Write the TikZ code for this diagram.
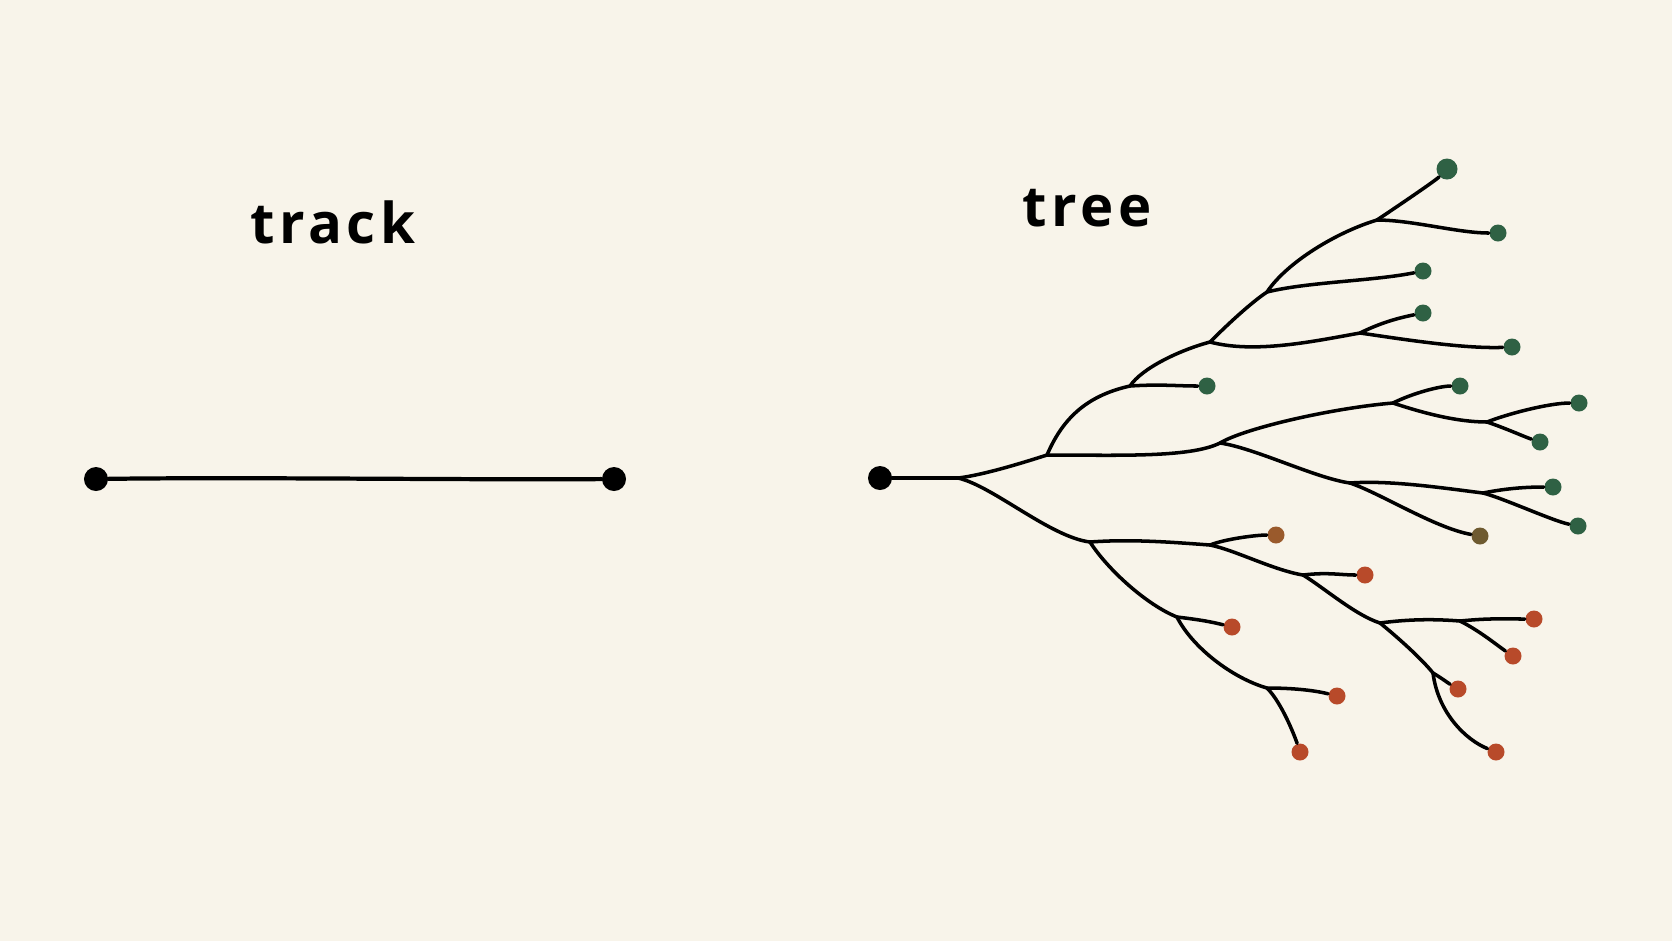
\documentclass[tikz,border=0pt]{standalone}
\usepackage{fontspec}
\setmainfont{Open Sans}[LetterSpace=8]
\usepackage{xcolor}
\definecolor{paper}{HTML}{F8F4EA}
\definecolor{leafgreen}{HTML}{2F6144}
\definecolor{leafred}{HTML}{B84A2A}
\definecolor{leafbrown}{HTML}{9A5A2C}
\definecolor{leafolive}{HTML}{6E5A30}

\begin{document}
\begin{tikzpicture}[x=0.01cm, y=-0.01cm, % pixel grid, y pointing down
		branch/.style={line width=1pt, line cap=round, black},
		knob/.style={circle, fill=black, inner sep=0pt, minimum size=0.24cm},
		leaf/.style={circle, fill=#1, inner sep=0pt, minimum size=0.17cm},
		label/.style={font=\fontsize{16}{18}\selectfont\bfseries}]
		% Paper
		\fill[paper] (0,0) rectangle (1672,941);

		% Titles
		\node[label] (tracktitle) at (333,222) {track};
		\node[label] (treetitle) at (1087,208) {tree};

		% Track: one line between two ends
		\node[knob] (start) at (96,479) {};
		\node[knob] (end) at (614,479) {};
		\draw[branch, line width=1.2pt] (start) .. controls +(150,-2) and +(-150,1) .. (end);

		% Tree: root and junctions
		\node[knob] (root) at (880,478) {};
		\coordinate (j0) at (958,478);
		\coordinate (jU) at (1047,455);
		\coordinate (jA) at (1130,386);
		\coordinate (jB) at (1210,342);
		\coordinate (jC) at (1360,333);
		\coordinate (jD) at (1267,292);
		\coordinate (jE) at (1377,220);
		\coordinate (jM) at (1220,443);
		\coordinate (jF) at (1393,403);
		\coordinate (jG) at (1487,422);
		\coordinate (jH) at (1350,483);
		\coordinate (jI) at (1483,493);
		\coordinate (jL) at (1090,542);
		\coordinate (jN) at (1210,545);
		\coordinate (jP) at (1303,575);
		\coordinate (jQ) at (1380,623);
		\coordinate (jS) at (1460,621);
		\coordinate (jT) at (1433,673);
		\coordinate (jK) at (1177,617);
		\coordinate (jV) at (1267,688);

		% Leaves
		\node[leaf=leafgreen, minimum size=0.21cm] (g1) at (1447,169) {};
		\node[leaf=leafgreen] (g2) at (1498,233) {};
		\node[leaf=leafgreen] (g3) at (1423,271) {};
		\node[leaf=leafgreen] (g4) at (1423,313) {};
		\node[leaf=leafgreen] (g5) at (1512,347) {};
		\node[leaf=leafgreen] (g6) at (1207,386) {};
		\node[leaf=leafgreen] (g7) at (1460,386) {};
		\node[leaf=leafgreen] (g8) at (1579,403) {};
		\node[leaf=leafgreen] (g9) at (1540,442) {};
		\node[leaf=leafgreen] (g10) at (1553,487) {};
		\node[leaf=leafgreen] (g11) at (1578,526) {};
		\node[leaf=leafolive] (o1) at (1480,536) {};
		\node[leaf=leafbrown] (b1) at (1276,535) {};
		\node[leaf=leafred] (r1) at (1365,575) {};
		\node[leaf=leafred] (r2) at (1534,619) {};
		\node[leaf=leafred] (r3) at (1513,656) {};
		\node[leaf=leafred] (r4) at (1458,689) {};
		\node[leaf=leafred] (r5) at (1496,752) {};
		\node[leaf=leafred] (r6) at (1232,627) {};
		\node[leaf=leafred] (r7) at (1337,696) {};
		\node[leaf=leafred] (r8) at (1300,752) {};

		% Trunk
		\draw[branch, line width=1.3pt] (root) -- (j0);

		% Upper limb
		\draw[branch] (j0) .. controls +(25,-3) and +(-25,8) .. (jU);
		\draw[branch] (jU) .. controls +(15,-35) and +(-45,10) .. (jA);
		\draw[branch] (jA) .. controls +(30,-2) and +(-30,0) .. (g6);
		\draw[branch] (jA) .. controls +(12,-18) and +(-30,8) .. (jB);
		\draw[branch] (jB) .. controls +(45,12) and +(-45,8) .. (jC);
		\draw[branch] (jC) .. controls +(20,-10) and +(-25,5) .. (g4);
		\draw[branch] (jC) .. controls +(35,5) and +(-50,2) .. (g5);
		\draw[branch] (jB) .. controls +(20,-20) and +(-15,10) .. (jD);
		\draw[branch] (jD) .. controls +(40,-10) and +(-50,10) .. (g3);
		\draw[branch] (jD) .. controls +(20,-30) and +(-40,12) .. (jE);
		\draw[branch] (jE) .. controls +(15,-10) and +(-12,12) .. (g1);
		\draw[branch] (jE) .. controls +(35,0) and +(-40,0) .. (g2);

		% Middle limb
		\draw[branch] (jU) .. controls +(70,0) and +(-30,15) .. (jM);
		\draw[branch] (jM) .. controls +(25,-15) and +(-60,5) .. (jF);
		\draw[branch] (jF) .. controls +(20,-10) and +(-20,0) .. (g7);
		\draw[branch] (jF) .. controls +(30,10) and +(-30,0) .. (jG);
		\draw[branch] (jG) .. controls +(20,-8) and +(-30,0) .. (g8);
		\draw[branch] (jG) .. controls +(18,6) and +(-15,-5) .. (g9);
		\draw[branch] (jM) .. controls +(35,5) and +(-35,-5) .. (jH);
		\draw[branch] (jH) .. controls +(40,-3) and +(-40,-5) .. (jI);
		\draw[branch] (jI) .. controls +(25,-5) and +(-25,0) .. (g10);
		\draw[branch] (jI) .. controls +(20,5) and +(-25,-5) .. (g11);
		\draw[branch] (jH) .. controls +(30,10) and +(-45,-8) .. (o1);

		% Lower limb
		\draw[branch] (j0) .. controls +(35,8) and +(-40,-5) .. (jL);
		\draw[branch] (jL) .. controls +(40,-3) and +(-40,-3) .. (jN);
		\draw[branch] (jN) .. controls +(15,-6) and +(-20,0) .. (b1);
		\draw[branch] (jN) .. controls +(25,5) and +(-30,-5) .. (jP);
		\draw[branch] (jP) .. controls +(25,-3) and +(-25,0) .. (r1);
		\draw[branch] (jP) .. controls +(20,12) and +(-25,-8) .. (jQ);
		\draw[branch] (jQ) .. controls +(30,-4) and +(-25,-2) .. (jS);
		\draw[branch] (jS) .. controls +(30,-3) and +(-30,0) .. (r2);
		\draw[branch] (jS) .. controls +(20,10) and +(-15,-10) .. (r3);
		\draw[branch] (jQ) .. controls +(15,12) and +(-12,-15) .. (jT);
		\draw[branch] (jT) .. controls +(10,6) and +(-10,-6) .. (r4);
		\draw[branch] (jT) .. controls +(5,40) and +(-30,-12) .. (r5);
		\draw[branch] (jL) .. controls +(18,28) and +(-30,-12) .. (jK);
		\draw[branch] (jK) .. controls +(25,3) and +(-20,-5) .. (r6);
		\draw[branch] (jK) .. controls +(15,30) and +(-35,-10) .. (jV);
		\draw[branch] (jV) .. controls +(30,0) and +(-20,-5) .. (r7);
		\draw[branch] (jV) .. controls +(15,15) and +(-5,-15) .. (r8);
	\end{tikzpicture}
\end{document}
